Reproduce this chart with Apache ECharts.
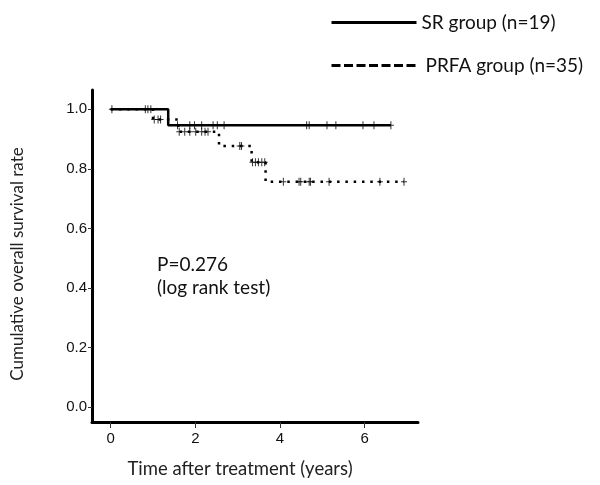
<!DOCTYPE html>
<html>
<head>
<meta charset="utf-8">
<script src="https://cdn.jsdelivr.net/npm/echarts@6/dist/echarts.min.js"></script>
<style>html,body{margin:0;padding:0;background:#fff}#c{width:600px;height:485px}</style>
</head>
<body>
<div id="c"></div>
<script>
// Kaplan-Meier step points [time (years), survival]
const srSteps = [[0, 1.0], [1.36, 0.947], [6.62, 0.947]];
const prfaSteps = [[0, 1.0], [1.0, 0.966], [1.60, 0.925], [2.56, 0.877], [3.33, 0.822], [3.66, 0.757], [6.93, 0.757]];
// censored observations [time, survival]
const srCensored = [[0.03, 1.0], [0.82, 1.0], [0.88, 1.0], [0.95, 1.0],
  [1.58, 0.947], [1.87, 0.947], [1.98, 0.947], [2.15, 0.947], [2.42, 0.947], [2.52, 0.947], [2.68, 0.947],
  [4.63, 0.947], [4.69, 0.947], [5.11, 0.947], [5.32, 0.947], [5.96, 0.947], [6.22, 0.947], [6.62, 0.947]];
const prfaCensored = [[1.03, 0.966], [1.12, 0.966], [1.18, 0.966],
  [1.62, 0.925], [1.75, 0.925], [1.87, 0.925], [2.01, 0.925], [2.15, 0.925], [2.23, 0.925], [2.30, 0.925],
  [3.05, 0.877], [3.09, 0.877],
  [3.35, 0.822], [3.42, 0.822], [3.49, 0.822], [3.57, 0.822], [3.64, 0.822],
  [4.08, 0.757], [4.45, 0.757], [4.49, 0.757], [4.69, 0.757], [4.72, 0.757], [5.16, 0.757], [6.36, 0.757], [6.93, 0.757]];
const xTicks = [0, 2, 4, 6];
const yTicks = [0, 0.2, 0.4, 0.6, 0.8, 1.0];
const seriesNames = ['SR group (n=19)', 'PRFA group (n=35)'];
const pText = 'P=0.276\n(log rank test)';
const xTitle = 'Time after treatment (years)';
const yTitle = 'Cumulative overall survival rate';

const plusPath = 'path://M-0.5,-4L0.5,-4L0.5,-0.5L3,-0.5L3,0.5L0.5,0.5L0.5,4L-0.5,4L-0.5,0.5L-3,0.5L-3,-0.5L-0.5,-0.5Z';
const titleFont = 'Lato, "Open Sans", sans-serif';
const tickFont = '"Liberation Sans", Arial, sans-serif';

const chart = echarts.init(document.getElementById('c'), null, {renderer: 'canvas'});
chart.setOption({
  animation: false,
  backgroundColor: '#fff',
  color: ['#000', '#000', '#000', '#000'],
  grid: {left: 92, right: 182, top: 90, bottom: 63, containLabel: false},
  legend: {
    orient: 'vertical', left: 325, top: 8, itemWidth: 85, itemHeight: 14, itemGap: 24,
    textStyle: {fontFamily: titleFont, fontSize: 19, color: '#111'},
    itemStyle: {opacity: 0},
    data: [
      {name: seriesNames[0], lineStyle: {type: 'solid', width: 3, color: '#000'}},
      {name: seriesNames[1], lineStyle: {type: [9, 3.5], width: 3, color: '#000'}, textStyle: {padding: [0, 0, 0, 4]}}
    ]
  },
  xAxis: {
    type: 'value', min: -0.44, max: 7.26,
    axisLine: {show: true, onZero: false, lineStyle: {color: '#000', width: 3}},
    axisTick: {show: true, length: 6, customValues: xTicks, lineStyle: {color: '#333', width: 1}},
    axisLabel: {customValues: xTicks, margin: 9, fontFamily: tickFont, fontSize: 15, color: '#111'},
    splitLine: {show: false},
    name: xTitle, nameLocation: 'middle', nameGap: 38,
    nameTextStyle: {fontFamily: titleFont, fontSize: 18.5, color: '#222', padding: [0, 30, 0, 0]}
  },
  yAxis: {
    type: 'value', min: -0.05, max: 1.065,
    axisLine: {show: true, onZero: false, lineStyle: {color: '#000', width: 3}},
    axisTick: {show: true, length: 4, customValues: yTicks, lineStyle: {color: '#333', width: 1}},
    axisLabel: {customValues: yTicks, margin: 5, fontFamily: tickFont, fontSize: 15, color: '#111',
      formatter: v => v.toFixed(1)},
    splitLine: {show: false},
    name: yTitle, nameLocation: 'middle', nameGap: 66, nameRotate: 90,
    nameTextStyle: {fontFamily: titleFont, fontSize: 17, color: '#222', padding: [0, 16, 0, 0]}
  },
  graphic: [{
    type: 'text', left: 157, top: 253,
    style: {text: pText, font: '19px Lato, "Open Sans", sans-serif', fill: '#111', lineHeight: 23}
  }],
  series: [
    {name: seriesNames[1], type: 'line', step: 'end', data: prfaSteps, symbol: 'none', showSymbol: false,
      itemStyle: {color: '#000'}, lineStyle: {color: '#000', width: 2.5, type: [2.5, 5.8]}, z: 2},
    {name: seriesNames[0], type: 'line', step: 'end', data: srSteps, symbol: 'none', showSymbol: false,
      itemStyle: {color: '#000'}, lineStyle: {color: '#000', width: 2.5, type: 'solid'}, z: 3},
    {name: 'srCensor', type: 'scatter', data: srCensored, symbol: plusPath, symbolSize: [6, 8],
      itemStyle: {color: '#000'}, z: 4},
    {name: 'prfaCensor', type: 'scatter', data: prfaCensored, symbol: plusPath, symbolSize: [6, 8],
      itemStyle: {color: '#000'}, z: 4}
  ]
});
</script>
</body>
</html>
